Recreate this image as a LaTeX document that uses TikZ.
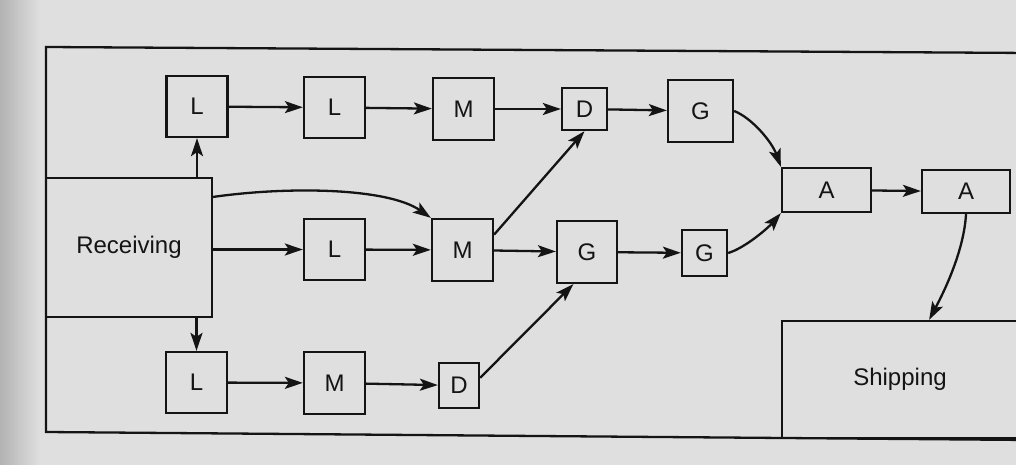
\documentclass[tikz,border=0pt]{standalone}
\usepackage{fontspec}
\setmainfont{Liberation Sans}
\usetikzlibrary{arrows.meta}
\definecolor{paper}{RGB}{223,223,223}
\definecolor{ink}{RGB}{20,20,20}
\begin{document}
\begin{tikzpicture}[x=1pt,y=-1pt,
  box/.style={draw=ink,line width=2.3pt,rectangle,inner sep=0pt,
    font=\fontsize{24}{28}\selectfont,text=ink},
  sq/.style={box,minimum width=61pt,minimum height=61pt},
  flow/.style={draw=ink,line width=2.3pt,
    -{Stealth[length=18pt,width=12pt,inset=4pt]}},
]
\useasboundingbox (0,0) rectangle (1016,465);
\fill[paper] (0,0) rectangle (1016,465);
\shade[left color=gray!60,right color=paper] (0,0) rectangle (40,465);
\clip (0,0) rectangle (1016,465);

% plant outline, open to the right
\coordinate (ftr) at (1030,53);
\coordinate (ftl) at (46,47);
\coordinate (fbl) at (46,432);
\coordinate (fbr) at (1030,440);
\draw[ink,line width=2.3pt] (ftr) -- (ftl) -- (fbl) -- (fbr);

% departments
\node[box,minimum width=166pt,minimum height=139pt] (rcv) at (129,247.5) {Receiving};
\node[box,minimum width=236pt,minimum height=117pt] (ship) at (900,379.5) {Shipping};

% top line
\node[sq] (l1) at (197,106.5) {L};
\node[sq] (l2) at (334.5,107.5) {L};
\node[sq,minimum height=62pt] (mt) at (463.5,109) {M};
\node[box,minimum width=45pt,minimum height=42pt] (dt) at (584.5,109) {D};
\node[box,minimum width=65pt,minimum height=62pt] (gt) at (700.5,111) {G};

% middle line
\node[sq] (lm) at (334.5,249.5) {L};
\node[sq,minimum height=62pt] (mm) at (462.5,250) {M};
\node[box,minimum width=60pt,minimum height=62pt] (gm) at (587,252) {G};
\node[box,minimum width=45pt,minimum height=46pt] (gs) at (704.5,253) {G};

% bottom line
\node[sq] (lb) at (196.5,382.5) {L};
\node[sq,minimum height=62pt] (mb) at (334.5,383) {M};
\node[box,minimum width=40pt,minimum height=45pt] (db) at (459,385.5) {D};

% assembly
\node[box,minimum width=89pt,minimum height=44pt] (a1) at (826.5,190) {A};
\node[box,minimum width=88pt,minimum height=43pt] (a2) at (966,191.5) {A};

% flows out of receiving
\draw[flow] (l1.south |- rcv.north) -- (l1.south);
\draw[flow] (lb.north |- rcv.south) -- (lb.north);
\draw[flow] (lm.west -| rcv.east) -- (lm.west);
\draw[flow] (rcv.31) .. controls (290,186) and (388,188) .. (mm.north west);

% top line flows
\draw[flow] (l1) -- (l2);
\draw[flow] (l2) -- (mt);
\draw[flow] (mt) -- (dt);
\draw[flow] (dt) -- (gt);

% middle line flows
\draw[flow] (lm) -- (mm);
\draw[flow] (mm) -- (gm);
\draw[flow] (gm) -- (gs);
\draw[flow] (mm.26) -- (dt.south);

% bottom line flows
\draw[flow] (lb) -- (mb);
\draw[flow] (mb) -- (db);
\draw[flow] (db.20) -- (gm.-113);

% to assembly and shipping
\draw[flow] (gt.east) .. controls (752,118) and (772,142) .. (a1.north west);
\draw[flow] (gs.east) .. controls (745,248) and (768,228) .. (a1.south west);
\draw[flow] (a1) -- (a2);
\draw[flow] (a2.south) .. controls (964,250) and (945,290) .. (ship.64.4);
\end{tikzpicture}
\end{document}
